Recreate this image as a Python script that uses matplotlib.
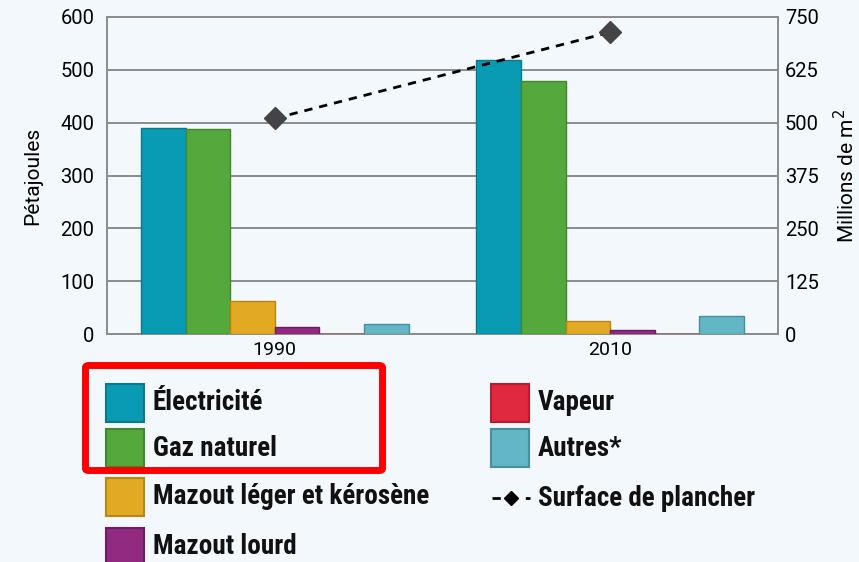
import numpy as np
import matplotlib
matplotlib.use("Agg")
import matplotlib.pyplot as plt
from matplotlib.patches import Rectangle, FancyBboxPatch
from matplotlib.lines import Line2D

years = ["1990", "2010"]
series = ["Électricité", "Gaz naturel", "Mazout léger et kérosène",
          "Mazout lourd", "Vapeur", "Autres*"]
electricite = [390, 519]
gaz = [388, 479]
mazout_leger = [62, 24]
mazout_lourd = [14, 7]
vapeur = [0.6, 0.6]
autres = [18, 35]
surface = [510, 714]
surface_label = "Surface de plancher"

colors = ["#0a9bb4", "#55a83c", "#e2aa22", "#922a82", "#e0283f", "#62b6c6"]
edges = ["#077a8e", "#3f8a2a", "#b88612", "#6e1d62", "#b81c2f", "#468f9c"]
BG = "#f3f8fd"
GRID = "#8c8c8c"
AXFONT = ["Roboto", "DejaVu Sans"]
LEGFONT = ["Roboto Condensed", "DejaVu Sans"]

plt.rcParams["font.family"] = AXFONT

W, H = 859, 562
fig = plt.figure(figsize=(W / 100, H / 100), dpi=100, facecolor=BG)
ax = fig.add_axes([107 / W, (H - 334) / H, 671 / W, 317 / H])
ax.set_facecolor(BG)

x = np.arange(len(years))
bw = 0.133
values = [electricite, gaz, mazout_leger, mazout_lourd, vapeur, autres]
for i, v in enumerate(values):
    ax.bar(x + (i - 2.5) * bw, v, bw, color=colors[i], edgecolor=edges[i],
           linewidth=1, zorder=3)

ax.set_xlim(-0.5, 1.5)
ax.set_ylim(0, 600)
ax.set_yticks(range(0, 601, 100))
ax.set_xticks(x)
ax.set_xticklabels(years, fontsize=14)
ax.tick_params(axis="y", length=0, pad=9, labelsize=14.5)
ax.tick_params(axis="x", length=0, pad=5)
ax.grid(axis="y", color=GRID, linewidth=1.4, zorder=0)
for s in ax.spines.values():
    s.set_color(GRID)
    s.set_linewidth(1.4)
ax.set_ylabel("Pétajoules", fontsize=15, labelpad=13)

ax2 = ax.twinx()
ax2.set_ylim(0, 750)
ax2.set_yticks(range(0, 751, 125))
ax2.tick_params(axis="y", length=0, pad=5, labelsize=14.5)
for s in ax2.spines.values():
    s.set_visible(False)
ax2.plot(x, surface, linestyle=(0, (3, 2.5)), color="black", linewidth=2,
         marker="D", markersize=11, markerfacecolor="#444444",
         markeredgecolor="#444444", zorder=5)
ax2.set_ylabel("Millions de m$^2$", fontsize=15, labelpad=10)

# legend drawn in pixel positions
def px(xp, yp):
    return xp / W, 1 - yp / H

col1 = [(106, 403), (106, 448), (106, 497), (106, 547)]
col2 = [(491, 403), (491, 448)]
for (lx, ly), lab, c, e in zip(col1 + col2, series, colors, edges):
    x0, y0 = px(lx, ly + 19)
    fig.add_artist(Rectangle((x0, y0), 38 / W, 38 / H, transform=fig.transFigure,
                             facecolor=c, edgecolor=e, linewidth=1.5))
    tx, ty = px(lx + 47, ly)
    fig.text(tx, ty, lab, fontsize=19.5, fontweight="bold", va="center",
             ha="left", color="#111111", family=LEGFONT)

lx0, ly0 = px(492, 498)
lx1, _ = px(530, 498)
fig.add_artist(Line2D([lx0, lx1], [ly0, ly0], transform=fig.transFigure,
                      color="black", linewidth=2, linestyle=(0, (3, 3))))
fig.add_artist(Line2D([(lx0 + lx1) / 2], [ly0], transform=fig.transFigure,
                      marker="D", markersize=7, color="black"))
tx, ty = px(538, 498)
fig.text(tx, ty, surface_label, fontsize=19.5, fontweight="bold", va="center",
         ha="left", color="#111111", family=LEGFONT)

rx, ry = px(85.5, 470.5)
fig.add_artist(FancyBboxPatch((rx, ry), 297 / W, 105 / H,
                              boxstyle="round,pad=0,rounding_size=0.004",
                              transform=fig.transFigure, facecolor="none",
                              edgecolor="#ff0000", linewidth=5))

fig.savefig("out.png", dpi=100, facecolor=BG)
